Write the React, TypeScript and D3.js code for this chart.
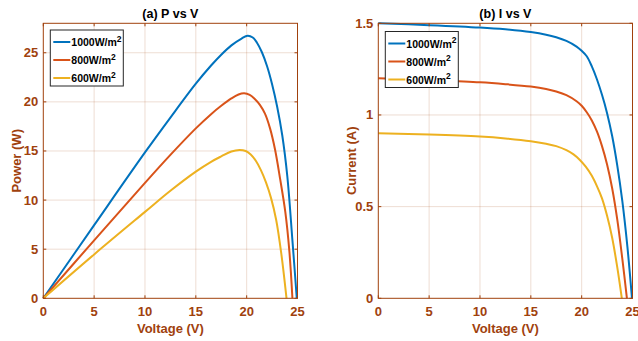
import React from 'react'
import * as d3 from 'd3'

// irradiance levels shown in both legends
const irradianceLabels = ['1000', '800', '600']
const seriesColors = ['#0072BD', '#D95319', '#EDB120']

const voltageTicks = [0, 5, 10, 15, 20, 25]
const powerTicks = [0, 5, 10, 15, 20, 25]
const currentTicks = [0, 0.5, 1, 1.5]

// P-V curves, [voltage, power]
const pv1000: [number, number][] = [
  [0, 0], [5, 7.45], [10, 14.85], [12.5, 18.4], [15, 21.85], [16.5, 23.7], [17.5, 24.8],
  [18.5, 25.75], [19.5, 26.45], [20.1, 26.73], [20.6, 26.55], [21, 26.05], [21.5, 25.05],
  [22, 23.65], [22.5, 21.8], [23, 19.5], [23.5, 16.6], [24, 12.4], [24.5, 5.9], [24.93, 0],
]
const pv800: [number, number][] = [
  [0, 0], [5, 5.9], [10, 11.75], [12.5, 14.6], [15, 17.3], [16.5, 18.75], [17.5, 19.6],
  [18.5, 20.35], [19.2, 20.75], [19.75, 20.87], [20.3, 20.72], [20.8, 20.3], [21.3, 19.7],
  [21.8, 18.8], [22.3, 17.3], [22.8, 15.1], [23.3, 12.1], [23.8, 8.8], [24.2, 4.8], [24.5, 0],
]
const pv600: [number, number][] = [
  [0, 0], [5, 4.47], [10, 8.8], [12.5, 10.95], [15, 12.9], [16.5, 13.9], [17.5, 14.45],
  [18.5, 14.95], [19.3, 15.1], [19.9, 15.0], [20.4, 14.65], [20.9, 14.0], [21.4, 13.05],
  [21.9, 11.8], [22.4, 10.2], [22.9, 8.0], [23.4, 4.6], [23.92, 0],
]

// I-V curves, [voltage, current]
const iv1000: [number, number][] = [
  [0, 1.5], [5, 1.49], [10, 1.477], [12.5, 1.467], [15, 1.452], [16.5, 1.438], [17.5, 1.424],
  [18.5, 1.404], [19.5, 1.373], [20, 1.35], [20.5, 1.32], [21, 1.265], [21.5, 1.195],
  [22, 1.11], [22.5, 1.01], [23, 0.885], [23.5, 0.725], [24, 0.53], [24.5, 0.28], [24.95, 0],
]
const iv800: [number, number][] = [
  [0, 1.2], [5, 1.19], [10, 1.178], [12.5, 1.168], [15, 1.155], [16.5, 1.142], [17.5, 1.128],
  [18.5, 1.108], [19.5, 1.075], [20, 1.05], [20.5, 1.015], [21, 0.97], [21.5, 0.91],
  [22, 0.83], [22.5, 0.73], [23, 0.6], [23.5, 0.43], [24, 0.215], [24.45, 0],
]
const iv600: [number, number][] = [
  [0, 0.9], [5, 0.893], [10, 0.882], [12.5, 0.872], [15, 0.857], [16.5, 0.843], [17.5, 0.83],
  [18.5, 0.808], [19.2, 0.785], [19.8, 0.756], [20.4, 0.718], [21, 0.668], [21.5, 0.612],
  [22, 0.545], [22.5, 0.45], [23, 0.33], [23.5, 0.17], [23.95, 0],
]

const axisColor = '#a0410d'
const font = 'Liberation Sans, Arial, sans-serif'

interface PanelProps {
  left: number
  title: string
  yLabel: string
  yLabelX: number
  yDomain: [number, number]
  yTicks: number[]
  series: [number, number][][]
  legendTop: number
}

const Panel: React.FC<PanelProps> = ({ left, title, yLabel, yLabelX, yDomain, yTicks, series, legendTop }) => {
  const top = 23.3
  const bottom = 298.3
  const right = left + 254.2
  const x = d3.scaleLinear().domain([0, 25]).range([left, right])
  const y = d3.scaleLinear().domain(yDomain).range([bottom, top])
  const line = d3
    .line<[number, number]>()
    .x(d => x(d[0]))
    .y(d => y(d[1]))
    .curve(d3.curveCatmullRom.alpha(0.5))
  const tick = 3
  const lx = left + 7
  const ly = legendTop

  return (
    <g>
      {/* grid */}
      {voltageTicks.slice(1, -1).map(v => (
        <line key={'gx' + v} x1={x(v)} x2={x(v)} y1={top} y2={bottom} stroke={axisColor} strokeOpacity={0.18} />
      ))}
      {yTicks
        .filter(t => y(t) > top + 1 && y(t) < bottom - 1)
        .map(t => (
          <line key={'gy' + t} x1={left} x2={right} y1={y(t)} y2={y(t)} stroke={axisColor} strokeOpacity={0.18} />
        ))}

      {/* curves */}
      {series.map((s, i) => (
        <path key={i} d={line(s) || ''} fill="none" stroke={seriesColors[i]} strokeWidth={2} />
      ))}

      {/* box and ticks */}
      <rect x={left} y={top} width={right - left} height={bottom - top} fill="none" stroke={axisColor} strokeWidth={1} />
      {voltageTicks.map(v => (
        <g key={'tx' + v}>
          <line x1={x(v)} x2={x(v)} y1={bottom} y2={bottom - tick} stroke={axisColor} />
          <line x1={x(v)} x2={x(v)} y1={top} y2={top + tick} stroke={axisColor} />
          <text
            x={x(v)}
            y={316}
            textAnchor="middle"
            fontFamily={font}
            fontWeight="bold"
            fontSize={13}
            fill={axisColor}
          >
            {v}
          </text>
        </g>
      ))}
      {yTicks.map(t => (
        <g key={'ty' + t}>
          <line x1={left} x2={left + tick} y1={y(t)} y2={y(t)} stroke={axisColor} />
          <line x1={right} x2={right - tick} y1={y(t)} y2={y(t)} stroke={axisColor} />
          <text
            x={left - 5}
            y={y(t) + 4.5}
            textAnchor="end"
            fontFamily={font}
            fontWeight="bold"
            fontSize={13}
            fill={axisColor}
          >
            {t}
          </text>
        </g>
      ))}

      {/* labels */}
      <text x={(left + right) / 2} y={18} textAnchor="middle" fontFamily={font} fontWeight="bold" fontSize={12.5} fill="#000">
        {title}
      </text>
      <text
        x={(left + right) / 2}
        y={332.5}
        textAnchor="middle"
        fontFamily={font}
        fontWeight="bold"
        fontSize={13}
        fill={axisColor}
      >
        Voltage (V)
      </text>
      <text
        transform={`translate(${yLabelX}, ${(top + bottom) / 2}) rotate(-90)`}
        textAnchor="middle"
        fontFamily={font}
        fontWeight="bold"
        fontSize={13}
        fill={axisColor}
      >
        {yLabel}
      </text>

      {/* legend */}
      <rect x={lx} y={ly} width={73} height={56} fill="#fff" stroke="#262626" strokeWidth={1} />
      {irradianceLabels.map((lab, i) => (
        <g key={lab}>
          <line x1={lx + 3} x2={lx + 20} y1={ly + 12 + i * 18} y2={ly + 12 + i * 18} stroke={seriesColors[i]} strokeWidth={2} />
          <text x={lx + 21} y={ly + 16 + i * 18} fontFamily={font} fontWeight="bold" fontSize={10.5} fill="#000">
            {lab}W/m
            <tspan dy={-4.5} fontSize={8.5}>
              2
            </tspan>
          </text>
        </g>
      ))}
    </g>
  )
}

export default function App() {
  return (
    <svg width={638} height={341} style={{ position: 'absolute', left: 0, top: 0, background: '#fff' }}>
      <Panel
        left={43.3}
        title="(a) P vs V"
        yLabel="Power (W)"
        yLabelX={20.5}
        yDomain={[0, 28]}
        yTicks={powerTicks}
        series={[pv1000, pv800, pv600]}
        legendTop={30}
      />
      <Panel
        left={378.3}
        title="(b) I vs V"
        yLabel="Current (A)"
        yLabelX={356}
        yDomain={[0, 1.5]}
        yTicks={currentTicks}
        series={[iv1000, iv800, iv600]}
        legendTop={31.5}
      />
    </svg>
  )
}
